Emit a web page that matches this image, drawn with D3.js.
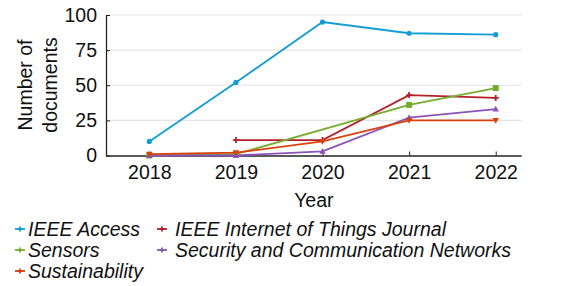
<!DOCTYPE html>
<html><head><meta charset="utf-8">
<script src="https://cdn.jsdelivr.net/npm/d3@7"></script>
<style>body{margin:0;background:#fff}svg{display:block}text{font-family:"Liberation Sans",Arial,sans-serif}</style>
</head><body>
<svg id="c" width="571" height="286"></svg>
<script>
const years = [2018, 2019, 2020, 2021, 2022];
const yTicks = [0, 25, 50, 75, 100];
const seriesNames = ["IEEE Access", "IEEE Internet of Things Journal", "Sensors", "Security and Communication Networks", "Sustainability"];
const ieeeAccess = [10, 52, 95, 87, 86];
const iotJournal = [null, 11, 11, 43, 41];
const sensors = [0, 1, null, 36, 48];
const securityComm = [0, 0, 3, 27, 33];
const sustainability = [1, 2, 10, 25, 25];
const colors = ["#129dd6", "#b3202b", "#77ac30", "#8b55b8", "#d8420f"];
const markers = ["circle", "plus", "square", "triangle", "tridown"];
const allValues = [ieeeAccess, iotJournal, sensors, securityComm, sustainability];

const FS = 19.5;
const svg = d3.select("#c");
const x = d3.scaleLinear().domain([2017.5, 2022.3]).range([106, 521.7]);
const y = d3.scaleLinear().domain([0, 100]).range([155.5, 15]);

// grid
svg.append("g").selectAll("line").data(yTicks.filter(d => d > 0)).join("line")
  .attr("x1", x(2017.5)).attr("x2", x(2022.3))
  .attr("y1", d => y(d)).attr("y2", d => y(d))
  .attr("stroke", "#e3e3e3").attr("stroke-width", 1.2);

// axes
const yAxis = d3.axisLeft(y).tickValues(yTicks).tickSize(-4).tickPadding(9);
const gy = svg.append("g").attr("transform", `translate(${x(2017.5)},0)`).call(yAxis);
gy.select(".domain").attr("d", `M0.5,${y(100)}V${y(0)}`).attr("stroke", "#222").attr("stroke-width", 1.3);
gy.selectAll(".tick line").attr("stroke", "#222");
gy.selectAll("text").attr("font-size", FS).attr("fill", "#111");

const xAxis = d3.axisBottom(x).tickValues(years).tickFormat(d3.format("d")).tickSize(-4).tickPadding(10);
const gx = svg.append("g").attr("transform", `translate(0,${y(0)})`).call(xAxis);
gx.select(".domain").attr("d", `M${x(2017.5)},0.5H${x(2022.3)}`).attr("stroke", "#222").attr("stroke-width", 1.3);
gx.selectAll(".tick line").attr("stroke", "#222");
gx.selectAll("text").attr("font-size", FS).attr("fill", "#111");

// axis titles
svg.append("text").attr("x", (x(2017.5) + x(2022.3)) / 2).attr("y", 207)
  .attr("text-anchor", "middle").attr("font-size", FS).attr("fill", "#111").text("Year");
const yt = svg.append("text").attr("transform", `translate(32,85) rotate(-90)`)
  .attr("text-anchor", "middle").attr("font-size", FS).attr("fill", "#111");
yt.append("tspan").attr("x", 0).attr("dy", 0).text("Number of");
yt.append("tspan").attr("x", 0).attr("dy", 25).text("documents");

function marker(g, type, cx, cy, color, s) {
  if (type === "circle") g.append("circle").attr("cx", cx).attr("cy", cy).attr("r", 2.6 * s).attr("fill", color);
  else if (type === "square") g.append("rect").attr("x", cx - 3 * s).attr("y", cy - 3 * s).attr("width", 6 * s).attr("height", 6 * s).attr("fill", color);
  else if (type === "triangle") g.append("path").attr("d", `M${cx},${cy - 3.3 * s}L${cx + 3.2 * s},${cy + 2.4 * s}L${cx - 3.2 * s},${cy + 2.4 * s}Z`).attr("fill", color);
  else if (type === "tridown") g.append("path").attr("d", `M${cx},${cy + 3.3 * s}L${cx + 3.2 * s},${cy - 2.4 * s}L${cx - 3.2 * s},${cy - 2.4 * s}Z`).attr("fill", color);
  else if (type === "plus") g.append("path").attr("d", `M${cx - 3 * s},${cy}H${cx + 3 * s}M${cx},${cy - 3 * s}V${cy + 3 * s}`).attr("stroke", color).attr("stroke-width", 1.8);
}

const lineGen = d3.line().x(d => x(d.year)).y(d => y(d.value));
allValues.forEach((vals, i) => {
  const pts = years.map((yr, j) => ({ year: yr, value: vals[j] })).filter(d => d.value !== null);
  const g = svg.append("g");
  g.append("path").datum(pts).attr("d", lineGen).attr("fill", "none")
    .attr("stroke", colors[i]).attr("stroke-width", 1.8);
  pts.forEach(p => marker(g, markers[i], x(p.year), y(p.value), colors[i], 1));
});

// legend
const legendPos = [[0, 0], [1, 0], [0, 1], [1, 1], [0, 2]];
const colX = [15, 157], textX = [28, 175], rowY = [229, 250, 271];
seriesNames.forEach((name, i) => {
  const [c, r] = legendPos[i];
  const g = svg.append("g");
  const lx = colX[c], ly = rowY[r];
  g.append("line").attr("x1", lx).attr("x2", lx + 10).attr("y1", ly).attr("y2", ly).attr("stroke", colors[i]).attr("stroke-width", 1.8);
  marker(g, "plus", lx + 5, ly, colors[i], 0.8);
  g.append("text").attr("x", textX[c]).attr("y", ly + 7).attr("font-size", FS).attr("font-style", "italic")
    .attr("fill", "#111").text(name);
});
</script>
</body></html>
